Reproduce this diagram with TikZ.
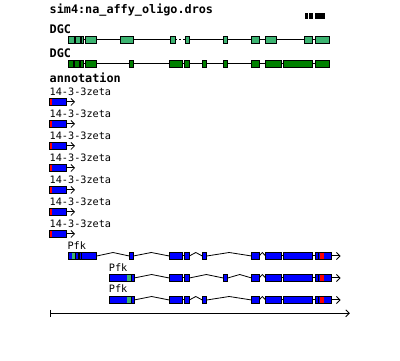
\documentclass[tikz,border=0pt]{standalone}
\usepackage{fontspec}
\setmonofont{DejaVu Sans Mono}
\usetikzlibrary{arrows.meta}
\definecolor{lgreen}{RGB}{60,179,113}
\definecolor{dgreen}{RGB}{0,128,0}
\definecolor{gblue}{RGB}{0,0,255}
\definecolor{gred}{RGB}{255,0,0}
\tikzset{
  lbl/.style={anchor=base west, inner sep=0pt, font=\ttfamily\fontsize{10.2}{10}\selectfont},
  blbl/.style={anchor=base west, inner sep=0pt, font=\ttfamily\bfseries\fontsize{11.8}{12}\selectfont},
  trk/.style={line width=1pt},
  exon/.style={draw=black, line width=0.85pt},
  openarr/.style={-{Straight Barb[length=3.5pt,width=7pt,line width=0.8pt]}, line width=1pt}
}
\newcommand{\gbox}[4]{\path[exon, fill=#4] (#1,#3-3.3) rectangle (#2,#3+3.3);}
\newcommand{\intronhat}[3]{\draw[line width=0.8pt] (#1,#3) -- ({(#1+#2)/2},#3-3.5) -- (#2,#3);}
\begin{document}
\begin{tikzpicture}[x=1pt,y=-1pt]
\useasboundingbox (0,0) rectangle (400,361);
% title and scale
\node[blbl] (title) at (49.5,13.3) {sim4:na\_affy\_oligo.dros};
\fill (305,13.3) rectangle (308,19);
\fill (309.3,13.3) rectangle (313,19);
\fill (315,13.3) rectangle (325.3,19);
% DGC 1
\node[blbl] (dgc1) at (49.5,33.3) {DGC};
\draw[trk] (68.3,39.7) -- (175,39.7);
\draw[trk,dash pattern=on 2pt off 2pt] (175,39.7) -- (185,39.7);
\draw[trk] (185,39.7) -- (329.3,39.7);
\foreach \a/\b in {68.3/74.3,75.3/80,81/83.3,85/96.7,120/133.3,170/175,185/189.3,223.3/227.7,251.7/259,265.7/276.7,304.3/312.7,315.7/329.3}
  {\gbox{\a}{\b}{39.7}{lgreen}}
% DGC 2
\node[blbl] (dgc2) at (49.5,57.3) {DGC};
\draw[trk] (68.3,63.8) -- (329.3,63.8);
\foreach \a/\b in {68.3/73.3,74.7/79.3,80.7/83.3,85/96.7,129/133.3,169/182.7,184.3/189.3,202.3/206.7,223.3/227.7,251.7/259,265.7/281.7,283.3/312.7,315.7/329.3}
  {\gbox{\a}{\b}{63.8}{dgreen}}
% annotation
\node[blbl] (ann) at (49.5,82.6) {annotation};
\foreach \k in {0,...,6}{
  \pgfmathsetmacro{\yc}{102+22*\k}
  \pgfmathsetmacro{\yl}{95.5+22*\k}
  \node[lbl] (z\k) at (49.5,\yl) {14-3-3zeta};
  \fill[gred] (49,\yc-3.5) rectangle (51.7,\yc+3.5);
  \fill[gblue] (51.7,\yc-3.5) rectangle (66.7,\yc+3.5);
  \draw[exon] (49,\yc-3.5) rectangle (66.7,\yc+3.5);
  \draw[openarr] (66.7,\yc) -- (75,\yc);
}
% Pfk 1
\node[lbl] (pfk1) at (67.3,250) {Pfk};
\def\yc{256}
\foreach \a/\b in {96.7/129.3,133.3/169.3,189.3/202.3,206.7/251.7,259/265.7}{\intronhat{\a}{\b}{\yc}}
\draw[trk] (75,\yc) -- (85,\yc) (182.7,\yc) -- (184,\yc) (281.7,\yc) -- (283.3,\yc) (312.7,\yc) -- (315,\yc);
\draw[openarr] (331.7,\yc) -- (340.5,\yc);
\foreach \a/\b in {68.3/75,75.5/78.5,79/81,81.5/96.7,129.3/133.3,169.3/182.7,184/189.3,202.3/206.7,251.7/259,265.7/281.7,283.3/312.7,315/318.5,318.5/331.7}
  {\gbox{\a}{\b}{\yc}{gblue}}
\fill[lgreen] (72,\yc-2.8) rectangle (74.5,\yc+2.8);
\fill[gred] (320,\yc-2.8) rectangle (323.5,\yc+2.8);
% Pfk 2
\node[lbl] (pfk2) at (108.7,271.5) {Pfk};
\def\yc{278}
\foreach \a/\b in {134/169.3,189.3/223.3,227.7/251.7,259/265.7}{\intronhat{\a}{\b}{\yc}}
\draw[trk] (182.7,\yc) -- (184,\yc) (281.7,\yc) -- (283.3,\yc) (312.7,\yc) -- (315,\yc);
\draw[openarr] (331.7,\yc) -- (340.5,\yc);
\foreach \a/\b in {109/131.7,131.7/134,169.3/182.7,184/189.3,223.3/227.7,251.7/259,265.7/281.7,283.3/312.7,315/318.5,318.5/331.7}
  {\gbox{\a}{\b}{\yc}{gblue}}
\fill[lgreen] (126.7,\yc-2.8) rectangle (130.7,\yc+2.8);
\fill[gred] (320,\yc-2.8) rectangle (323.5,\yc+2.8);
% Pfk 3
\node[lbl] (pfk3) at (108.7,292.8) {Pfk};
\def\yc{300}
\foreach \a/\b in {134/169.3,189.3/202.3,206.7/251.7,259/265.7}{\intronhat{\a}{\b}{\yc}}
\draw[trk] (182.7,\yc) -- (184,\yc) (281.7,\yc) -- (283.3,\yc) (312.7,\yc) -- (315,\yc);
\draw[openarr] (331.7,\yc) -- (340.5,\yc);
\foreach \a/\b in {109/131.7,131.7/134,169.3/182.7,184/189.3,202.3/206.7,251.7/259,265.7/281.7,283.3/312.7,315/318.5,318.5/331.7}
  {\gbox{\a}{\b}{\yc}{gblue}}
\fill[lgreen] (126.7,\yc-2.8) rectangle (130.7,\yc+2.8);
\fill[gred] (320,\yc-2.8) rectangle (323.5,\yc+2.8);
% axis
\coordinate (axl) at (50.7,313.3);
\coordinate (axr) at (349.8,313.3);
\draw[openarr] (axl) -- (axr);
\draw[line width=1pt] (50.7,310) -- (50.7,316.8);
\end{tikzpicture}
\end{document}
